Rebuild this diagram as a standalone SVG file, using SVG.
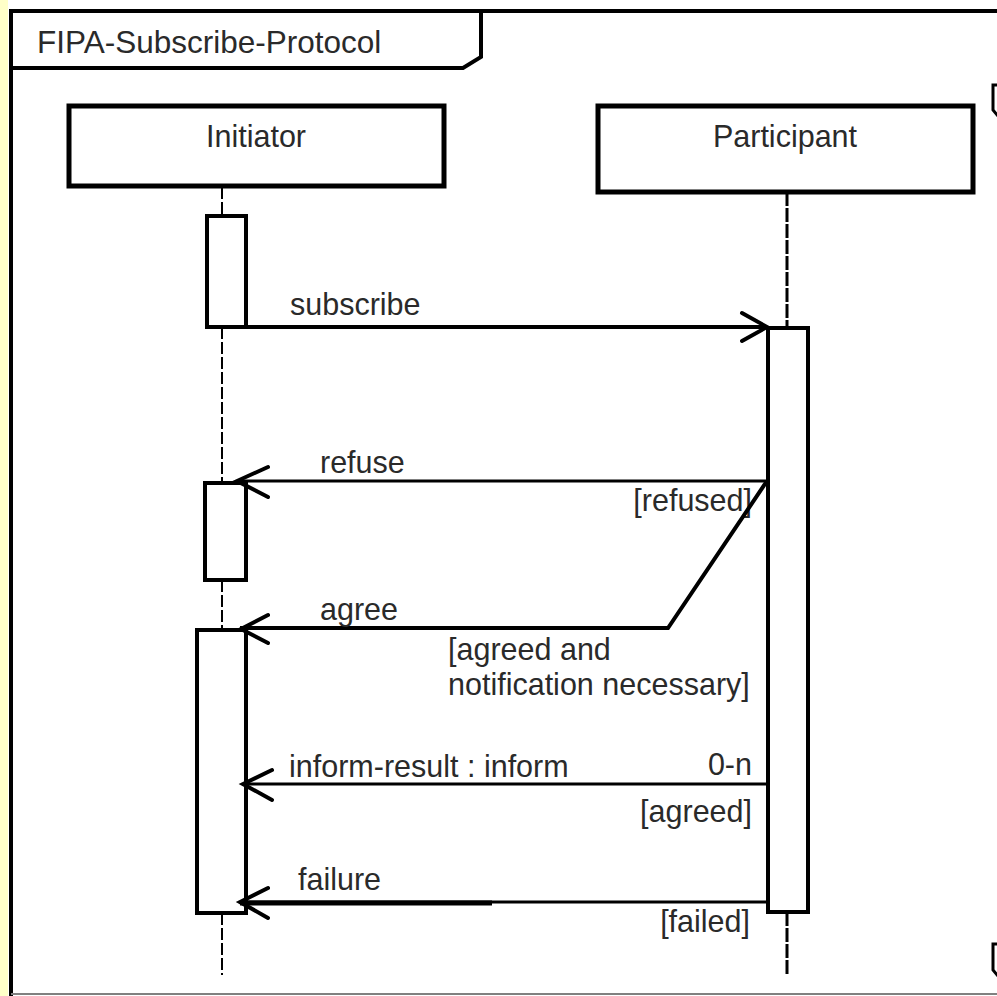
<svg xmlns="http://www.w3.org/2000/svg" width="997" height="996" viewBox="0 0 997 996">
<style>
text{font-family:"Liberation Sans",Arial,sans-serif;font-size:30.5px;fill:#2a2a2a}
.box{fill:#fff;stroke:#000;stroke-width:5}
.act{fill:#fff;stroke:#000;stroke-width:4}
.life{stroke:#000;stroke-width:2;stroke-dasharray:12 3;fill:none}
.plife{stroke:#000;stroke-width:3;stroke-dasharray:14 2;fill:none}
.msg{stroke:#000;stroke-width:4;fill:none}
.thin{stroke:#000;stroke-width:3;fill:none}
.head{stroke:#000;stroke-width:4;fill:none;stroke-linecap:round;stroke-linejoin:miter}
.frame{stroke:#000;stroke-width:4;fill:none}
.corner{stroke:#000;stroke-width:3;fill:none}
.end{text-anchor:end}
.mid{text-anchor:middle}
</style>
<rect x="0" y="0" width="997" height="996" fill="#fff"/>
<rect x="0" y="0" width="8" height="996" fill="#ffffc8"/>
<g id="frame">
<path class="frame" d="M11 996 V11 H997"/>
<path class="frame" d="M481 11 V57 L463 68 H11"/>
<text x="37" y="53" style="font-size:31.5px">FIPA-Subscribe-Protocol</text>
<path class="corner" d="M997 85 H993 V110 L998 116"/>
<path class="corner" d="M997 944 H993 V970 L998 976"/>
<line x1="11" y1="994" x2="997" y2="994" stroke="#808080" stroke-width="2"/>
</g>
<g id="connectors">
<line class="life" x1="222" y1="187" x2="222" y2="215"/>
<line class="life" x1="222" y1="327" x2="222" y2="483"/>
<line class="life" x1="222" y1="580" x2="222" y2="630"/>
<line class="life" x1="222" y1="913" x2="222" y2="975"/>
<line class="plife" x1="787" y1="192" x2="787" y2="327"/>
<line class="plife" x1="787" y1="912" x2="787" y2="975"/>
</g>
<g id="initiator">
<rect class="box" x="69" y="106" width="375" height="80"/>
<text class="mid" x="256" y="147">Initiator</text>
</g>
<g id="participant">
<rect class="box" x="598" y="106" width="375" height="86"/>
<text class="mid" x="785" y="147">Participant</text>
</g>
<g id="activations">
<rect class="act" x="207" y="216" width="39" height="111"/>
<rect class="act" x="205" y="483" width="41" height="97"/>
<rect class="act" x="197" y="630" width="49" height="283"/>
<rect class="act" x="768" y="328" width="40" height="584"/>
</g>
<g id="messages">
<line class="msg" x1="222" y1="327" x2="767" y2="327"/>
<path class="head" d="M742 313 L767 327 L742 341"/>
<text x="290" y="315">subscribe</text>

<line class="thin" x1="767" y1="481" x2="237" y2="481"/>
<path class="head" d="M268 467 L237 481 L268 497"/>
<text x="320" y="473">refuse</text>
<text class="end" x="752" y="511">[refused]</text>

<path class="msg" d="M767 481 L668 628 H240"/>
<path class="head" d="M268 615 L241 629 L268 643"/>
<text x="320" y="620">agree</text>
<text x="448" y="660">[agreed and</text>
<text x="448" y="695">notification necessary]</text>

<line class="thin" x1="767" y1="784" x2="243" y2="784"/>
<path class="head" d="M272 770 L243 784 L272 800"/>
<text x="289" y="777">inform-result : inform</text>
<text class="end" x="752" y="775">0-n</text>
<text class="end" x="752" y="822">[agreed]</text>

<line class="thin" x1="767" y1="902" x2="240" y2="902"/>
<line class="msg" style="stroke-width:5" x1="492" y1="903" x2="240" y2="903"/>
<path class="head" d="M268 888 L240 902 L268 918"/>
<text x="298" y="890">failure</text>
<text class="end" x="750" y="932">[failed]</text>
</g>
</svg>
